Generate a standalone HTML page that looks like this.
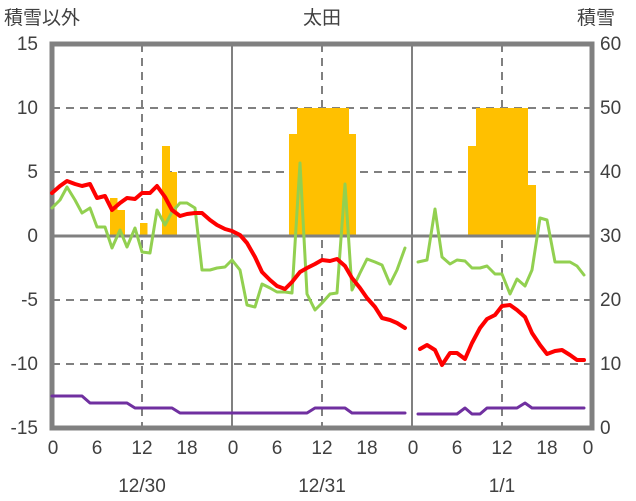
<!DOCTYPE html><html><head><meta charset="utf-8"><style>body{margin:0;background:#fff}svg{display:block}text{font-family:"Liberation Sans","Noto Sans CJK JP",sans-serif;font-size:19px;fill:#404040}</style></head><body>
<svg width="636" height="501" xmlns="http://www.w3.org/2000/svg">
<g stroke="#808080" stroke-width="2" stroke-dasharray="8,6" fill="none">
<line x1="52" y1="108" x2="592" y2="108"/><line x1="52" y1="172" x2="592" y2="172"/><line x1="52" y1="300" x2="592" y2="300"/><line x1="52" y1="364" x2="592" y2="364"/>
<line x1="142" y1="44" x2="142" y2="428"/><line x1="322" y1="44" x2="322" y2="428"/><line x1="502" y1="44" x2="502" y2="428"/>
</g>
<g fill="#FFC000">
<rect x="110" y="198" width="7.5" height="38"/><rect x="117" y="210" width="8" height="26"/><rect x="140" y="223" width="7.5" height="13"/><rect x="162" y="146" width="8" height="90"/><rect x="170" y="172" width="7" height="64"/>
<rect x="289" y="134" width="8" height="102"/><rect x="297" y="108" width="52" height="128"/><rect x="349" y="134" width="7" height="102"/>
<rect x="468" y="146" width="8" height="90"/><rect x="476" y="108" width="52" height="128"/><rect x="528" y="185" width="8" height="51"/>
</g>
<g stroke="#808080" fill="none">
<line x1="52" y1="236" x2="592" y2="236" stroke-width="3"/>
<line x1="232" y1="44" x2="232" y2="428" stroke-width="2"/><line x1="412" y1="44" x2="412" y2="428" stroke-width="2"/>
<rect x="52" y="44" width="540" height="384" stroke-width="5"/>
</g>
<g fill="none" stroke-linejoin="round" stroke-linecap="round">
<polyline stroke="#92D050" stroke-width="3" points="52,208 60,200 67,187 75,200 82,213 90,208 97,227 105,227 112,248 120,230 127,247 135,228 142,252 150,253 157,210 165,225 172,212 180,203 187,203 195,208 202,270 210,270 217,268 225,267 232,260 240,270 247,305 255,307 262,284 270,288 277,292 285,292 292,293 300,163 307,294 315,310 322,303 330,294 337,293 345,184 352,290 360,273 367,259 375,262 382,265 390,284 397,270 405,248"/>
<polyline stroke="#92D050" stroke-width="3" points="418,262 427,260 435,209 442,257 450,264 457,260 465,261 472,268 480,268 487,266 495,274 502,274 510,294 517,279 525,286 532,270 540,218 547,220 555,262 562,262 570,262 577,266 584,275"/>
<polyline stroke="#FF0000" stroke-width="4" points="52,193 60,186 67,181 75,184 82,186 90,184 97,198 105,196 112,210 120,203 127,198 135,199 142,193 150,193 157,186 165,197 172,210 180,216 187,214 195,213 202,213 210,220 217,225 225,229 232,231 240,235 247,243 255,257 262,272 270,280 277,286 285,289 292,282 300,272 307,268 315,264 322,260 330,261 337,259 345,266 352,278 360,288 367,298 375,307 382,318 390,320 397,323 405,328"/>
<polyline stroke="#FF0000" stroke-width="4" points="420,349 427,345 435,350 442,365 450,353 457,353 465,359 472,343 480,328 487,319 495,315 502,306 510,305 517,310 525,317 532,333 540,345 547,354 555,351 562,350 570,355 577,360 584,360"/>
<polyline stroke="#7030A0" stroke-width="3" points="52,396 82,396 90,403 127,403 135,408 172,408 180,413 307,413 315,408 345,408 352,413 405,413"/>
<polyline stroke="#7030A0" stroke-width="3" points="418,414 457,414 465,408 472,414 480,414 487,408 517,408 525,403 532,408 584,408"/>
</g>
<g text-anchor="end"><text x="38" y="50">15</text><text x="38" y="114">10</text><text x="38" y="178">5</text><text x="38" y="242">0</text><text x="38" y="306">-5</text><text x="38" y="370">-10</text><text x="38" y="434">-15</text></g>
<g><text x="600" y="50">60</text><text x="600" y="114">50</text><text x="600" y="178">40</text><text x="600" y="242">30</text><text x="600" y="306">20</text><text x="600" y="370">10</text><text x="600" y="434">0</text></g>
<g text-anchor="middle"><text x="53" y="454">0</text><text x="97" y="454">6</text><text x="142" y="454">12</text><text x="187" y="454">18</text><text x="233" y="454">0</text><text x="277" y="454">6</text><text x="322" y="454">12</text><text x="367" y="454">18</text><text x="413" y="454">0</text><text x="457" y="454">6</text><text x="502" y="454">12</text><text x="547" y="454">18</text><text x="588" y="454">0</text>
<text x="142" y="492">12/30</text><text x="322" y="492">12/31</text><text x="502" y="492">1/1</text>
<text x="322" y="24">太田</text></g>
<text x="4" y="24">積雪以外</text><text x="596" y="24" text-anchor="middle">積雪</text>
</svg></body></html>
